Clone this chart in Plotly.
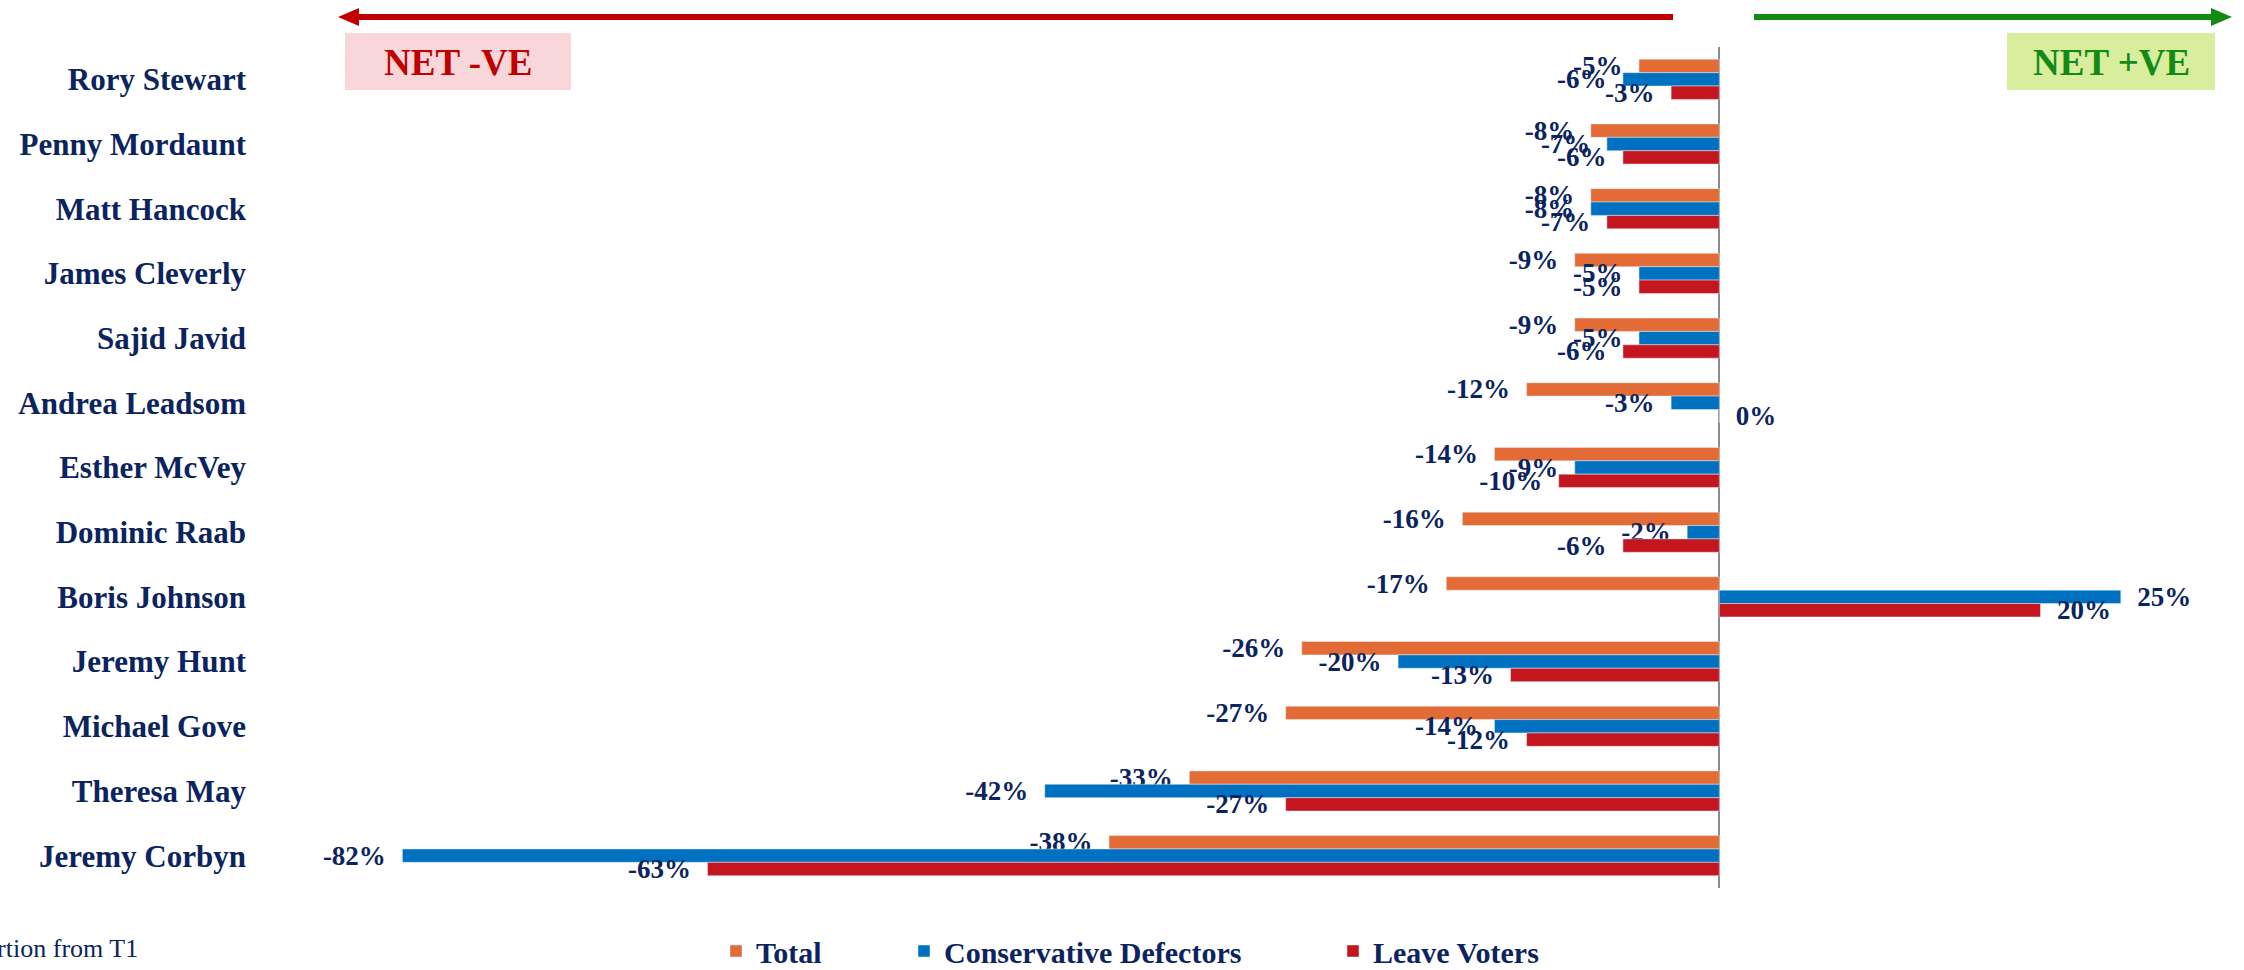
import plotly.graph_objects as go

# leadership candidates, top to bottom
candidates = ["Rory Stewart", "Penny Mordaunt", "Matt Hancock", "James Cleverly",
              "Sajid Javid", "Andrea Leadsom", "Esther McVey", "Dominic Raab",
              "Boris Johnson", "Jeremy Hunt", "Michael Gove", "Theresa May",
              "Jeremy Corbyn"]

total = [-5, -8, -8, -9, -9, -12, -14, -16, -17, -26, -27, -33, -38]
con_defectors = [-6, -7, -8, -5, -5, -3, -9, -2, 25, -20, -14, -42, -82]
leave_voters = [-3, -6, -7, -5, -6, 0, -10, -6, 20, -13, -12, -27, -63]

series_names = ["Total", "Conservative Defectors", "Leave Voters"]
series_colors = ["#E36C36", "#0070C0", "#C4161F"]

NAVY = "#0B2460"
FONT = "Liberation Serif"
GAP = "\u00a0\u00a0"  # extra room between bar end and its label

# page pixel -> paper helpers for the decorations
L, R, T, B = 252, 20, 47, 82
PW, PH = 2244 - L - R, 970 - T - B


def px(x):
    return (x - L) / PW


def py(y):
    return (970 - B - y) / PH


def labels(vals):
    return [("%d%%" % v + GAP) if v < 0 else (GAP + "%d%%" % v) for v in vals]


fig = go.Figure()
for i, (name, vals, col) in enumerate(zip(series_names,
                                          [total, con_defectors, leave_voters],
                                          series_colors)):
    fig.add_trace(go.Bar(
        y=candidates, x=vals, name=name, orientation="h",
        marker=dict(color=col),
        text=labels(vals), textposition="outside",
        textfont=dict(family=FONT, size=27, color=NAVY, weight="bold"),
        cliponaxis=False, constraintext="none",
        showlegend=True,
        legend="legend" if i == 0 else "legend%d" % (i + 1),
    ))

# zero scale: 0 at x=1719, 16.06 px per point
x_left = (L - 1719.3) / 16.06
x_right = (2244 - R - 1719.3) / 16.06

shapes = []
# red arrow (net negative)
shapes.append(dict(type="line", xref="paper", yref="paper",
                   x0=px(1673), x1=px(356), y0=py(17), y1=py(17),
                   line=dict(color="#C00000", width=6)))
shapes.append(dict(type="path", xref="paper", yref="paper",
                   path="M %f,%f L %f,%f L %f,%f Z" % (px(338), py(17), px(359), py(8), px(359), py(26)),
                   fillcolor="#C00000", line=dict(width=0)))
# green arrow (net positive)
shapes.append(dict(type="line", xref="paper", yref="paper",
                   x0=px(1754), x1=px(2212), y0=py(17), y1=py(17),
                   line=dict(color="#138A13", width=6)))
shapes.append(dict(type="path", xref="paper", yref="paper",
                   path="M %f,%f L %f,%f L %f,%f Z" % (px(2232), py(17), px(2211), py(8), px(2211), py(26)),
                   fillcolor="#138A13", line=dict(width=0)))
# label boxes
shapes.append(dict(type="rect", xref="paper", yref="paper",
                   x0=px(345), x1=px(571), y0=py(90), y1=py(33),
                   fillcolor="#F9D6D9", line=dict(width=0)))
shapes.append(dict(type="rect", xref="paper", yref="paper",
                   x0=px(2007), x1=px(2215), y0=py(90), y1=py(33),
                   fillcolor="#D8ED9E", line=dict(width=0)))

annotations = [
    dict(text="<b>NET -VE</b>", xref="paper", yref="paper", x=px(458), y=py(62),
         xanchor="center", yanchor="middle", showarrow=False,
         font=dict(family=FONT, size=37, color="#C00000")),
    dict(text="<b>NET +VE</b>", xref="paper", yref="paper", x=px(2111), y=py(62),
         xanchor="center", yanchor="middle", showarrow=False,
         font=dict(family=FONT, size=37, color="#138A13")),
    dict(text="Proportion from T1", xref="paper", yref="paper", x=px(140), y=py(948),
         xanchor="right", yanchor="middle", showarrow=False,
         font=dict(family=FONT, size=26, color=NAVY)),
]

leg = dict(orientation="h", yanchor="middle", y=py(951), xanchor="left",
           bgcolor="rgba(0,0,0,0)",
           font=dict(family=FONT, size=30, color=NAVY, weight="bold"))

fig.update_layout(
    barmode="group", bargap=0.38, bargroupgap=0,
    width=2244, height=970, showlegend=True,
    margin=dict(l=L, r=R, t=T, b=B, autoexpand=False),
    plot_bgcolor="white", paper_bgcolor="white",
    shapes=shapes, annotations=annotations,
    legend=dict(leg, x=px(716)),
    legend2=dict(leg, x=px(904)),
    legend3=dict(leg, x=px(1333)),
    xaxis=dict(range=[x_left, x_right], showticklabels=False, showgrid=False,
               zeroline=True, zerolinecolor="#8C8C8C", zerolinewidth=2),
    yaxis=dict(categoryorder="array", categoryarray=candidates, autorange="reversed",
               showgrid=False, ticks="", ticklabelstandoff=5,
               tickfont=dict(family=FONT, size=31, color=NAVY, weight="bold")),
)

# drop the default page margin so the figure sits at the window's corner
fig.write_html("out.html", config={"displayModeBar": False},
               post_script="document.body.style.margin='0';")
